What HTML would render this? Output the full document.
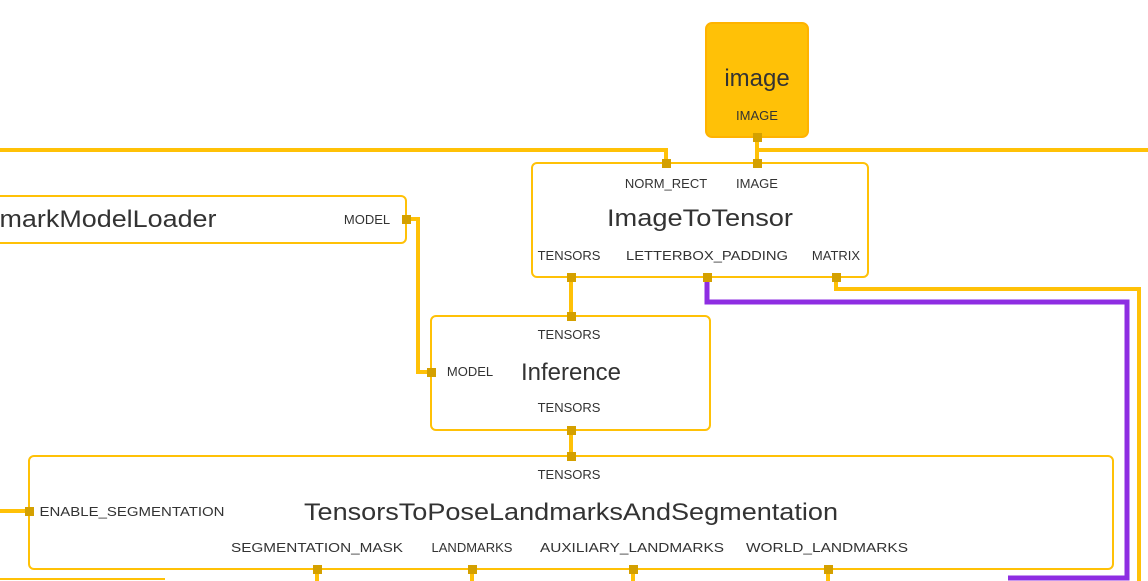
<!DOCTYPE html>
<html><head><meta charset="utf-8"><style>
html,body{margin:0;padding:0;background:#fff;width:1148px;height:581px;overflow:hidden}
svg{display:block;font-family:"Liberation Sans",sans-serif;fill:#333}
.s{font-size:13px;text-anchor:middle}
.t{font-size:24px;text-anchor:middle}
</style></head><body>
<svg width="1148" height="581" viewBox="0 0 1148 581" xmlns="http://www.w3.org/2000/svg">
<g fill="none" stroke-width="4" stroke-linejoin="miter">
<polyline points="0,150 666,150 666,163" stroke="#FFC107"/>
<polyline points="757,137 757,163" stroke="#FFC107"/>
<polyline points="757,150 1148,150" stroke="#FFC107"/>
<polyline points="406,219 418,219 418,372 431,372" stroke="#FFC107"/>
<polyline points="571,277 571,316" stroke="#FFC107"/>
<polyline points="571,430 571,456" stroke="#FFC107"/>
<polyline points="836,277 836,289 1139,289 1139,581" stroke="#FFC107"/>
<polyline points="707,277 707,302 1127,302 1127,578 1008,578" stroke="#8E2DE2" stroke-width="5"/>
<polyline points="0,511 29,511" stroke="#FFC107"/>
<polyline points="317,569 317,581" stroke="#FFC107"/>
<polyline points="472,569 472,581" stroke="#FFC107"/>
<polyline points="633,569 633,581" stroke="#FFC107"/>
<polyline points="828,569 828,581" stroke="#FFC107"/>
<polyline points="0,579 165,579" stroke="#FFC107" stroke-width="2"/>
</g>
<g stroke="#FFC107" stroke-width="2" fill="#fff">
<rect x="706" y="23" width="102" height="114" rx="6" fill="#FFC107" stroke="#FFB300"/>
<rect x="532" y="163" width="336" height="114" rx="5"/>
<rect x="-10" y="196" width="416" height="47" rx="5"/>
<rect x="431" y="316" width="279" height="114" rx="5"/>
<rect x="29" y="456" width="1084" height="113" rx="5"/>
</g>
<g fill="#D4A000">
<rect x="753" y="133" width="9" height="9"/>
<rect x="662" y="159" width="9" height="9"/>
<rect x="753" y="159" width="9" height="9"/>
<rect x="567" y="273" width="9" height="9"/>
<rect x="703" y="273" width="9" height="9"/>
<rect x="832" y="273" width="9" height="9"/>
<rect x="402" y="215" width="9" height="9"/>
<rect x="427" y="368" width="9" height="9"/>
<rect x="567" y="312" width="9" height="9"/>
<rect x="567" y="426" width="9" height="9"/>
<rect x="567" y="452" width="9" height="9"/>
<rect x="25" y="507" width="9" height="9"/>
<rect x="313" y="565" width="9" height="9"/>
<rect x="468" y="565" width="9" height="9"/>
<rect x="629" y="565" width="9" height="9"/>
<rect x="824" y="565" width="9" height="9"/>
</g>
<text class="t" x="757" y="86">image</text>
<text class="s" x="757" y="120">IMAGE</text>
<text class="s" x="666" y="188">NORM_RECT</text>
<text class="s" x="757" y="188">IMAGE</text>
<text class="t" x="700" y="226" textLength="186" lengthAdjust="spacingAndGlyphs">ImageToTensor</text>
<text class="s" x="569" y="260">TENSORS</text>
<text class="s" x="707" y="260" textLength="162" lengthAdjust="spacingAndGlyphs">LETTERBOX_PADDING</text>
<text class="s" x="836" y="260">MATRIX</text>
<text class="t" x="108" y="227" textLength="217" lengthAdjust="spacingAndGlyphs">markModelLoader</text>
<text class="s" x="367" y="224">MODEL</text>
<text class="s" x="569" y="339">TENSORS</text>
<text class="s" x="470" y="376">MODEL</text>
<text class="t" x="571" y="380">Inference</text>
<text class="s" x="569" y="412">TENSORS</text>
<text class="s" x="569" y="479">TENSORS</text>
<text class="s" x="132" y="516" textLength="185" lengthAdjust="spacingAndGlyphs">ENABLE_SEGMENTATION</text>
<text class="t" x="571" y="520" textLength="534" lengthAdjust="spacingAndGlyphs">TensorsToPoseLandmarksAndSegmentation</text>
<text class="s" x="317" y="552" textLength="172" lengthAdjust="spacingAndGlyphs">SEGMENTATION_MASK</text>
<text class="s" x="472" y="552">LANDMARKS</text>
<text class="s" x="632" y="552" textLength="184" lengthAdjust="spacingAndGlyphs">AUXILIARY_LANDMARKS</text>
<text class="s" x="827" y="552" textLength="162" lengthAdjust="spacingAndGlyphs">WORLD_LANDMARKS</text>
</svg>
</body></html>
